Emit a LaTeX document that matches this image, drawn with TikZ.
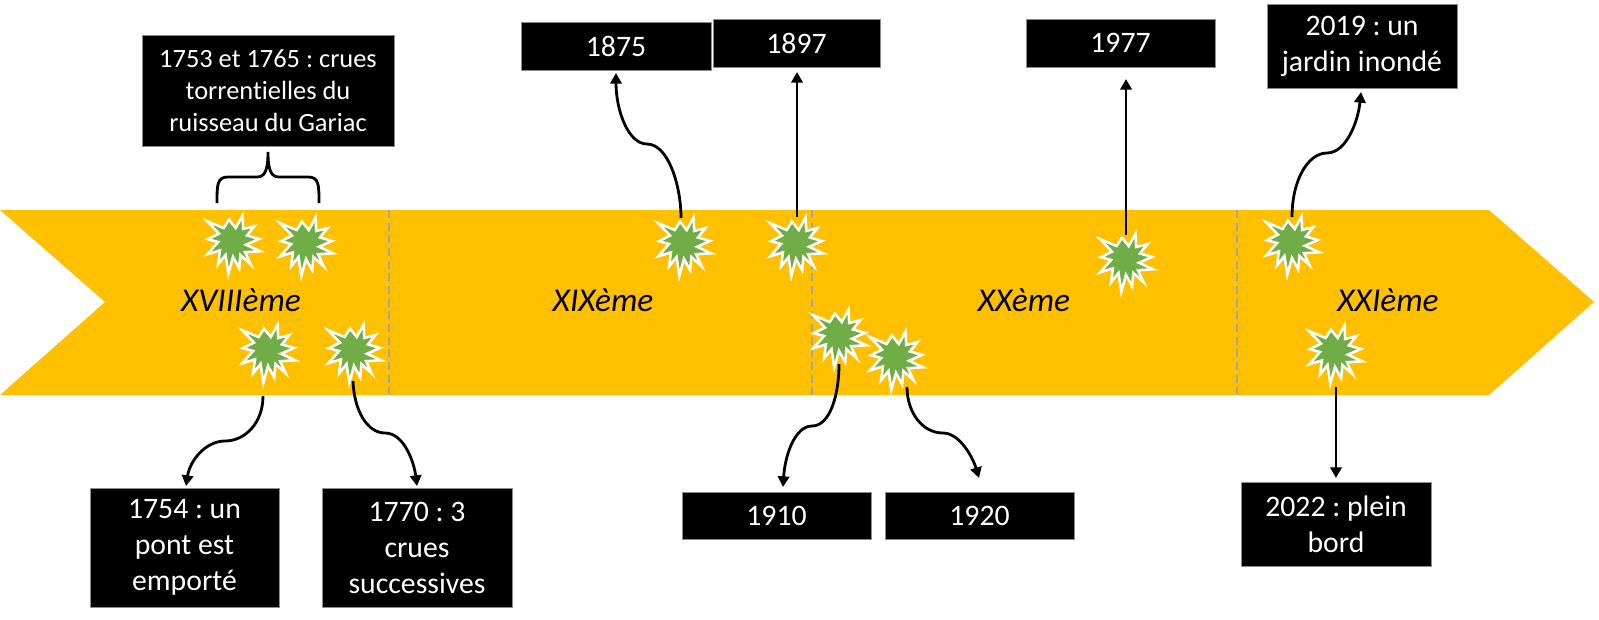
\documentclass[tikz,border=0pt]{standalone}
\usepackage{fontspec}
\setmainfont{Carlito}[Ligatures=NoCommon]
\usetikzlibrary{arrows.meta}
\definecolor{band}{RGB}{255,192,0}
\definecolor{burstgreen}{RGB}{112,173,71}
\definecolor{sepgray}{RGB}{165,165,165}
\tikzset{
  x=0.75pt,y=-0.75pt,
  lab/.style={fill=black,draw=black!45,line width=0.5pt,text=white,font=\fontsize{22.3}{27}\selectfont\frenchspacing,align=center,inner sep=0pt,anchor=center},
  labsmall/.style={lab,font=\fontsize{19.8}{24}\selectfont\frenchspacing},
  cent/.style={font=\fontsize{25}{30}\selectfont\itshape,inner sep=0pt},
  conn/.style={draw=black,line width=2.1pt,-{Triangle[length=8pt,width=8.5pt]}},
  brace/.style={draw=black,line width=2.1pt},
  burst/.style={fill=burstgreen,draw=white,line width=1.9pt,scale=0.93},
  sep/.style={draw=sepgray,line width=1.9pt,dash pattern=on 6pt off 3.5pt},
}
\newcommand{\lbox}[7][lab]{\node[#1,minimum width=#5*0.75pt-#3*0.75pt,minimum height=#6*0.75pt-#4*0.75pt] (#2) at ({(#3+#5)/2},{(#4+#6)/2}) {#7};}
\newcommand{\burstat}[3]{\coordinate (#1) at (#2,#3);
 \draw[burst,shift={(#1)}] (-27.7,-22.3) -- (-10,-15) -- (-4.3,-24) -- (3,-15) -- (10.3,-28.3) -- (11,-14) -- (23,-17) -- (15,-7) -- (28,-3.3) -- (14,3) -- (29.3,10) -- (13,11) -- (19,24) -- (8,14) -- (6.7,28.3) -- (0,16) -- (-5,34.3) -- (-8,14) -- (-16,24) -- (-14,9) -- (-27.7,13.3) -- (-16,0) -- (-27,-3) -- (-15,-9) -- cycle;}
\begin{document}
\begin{tikzpicture}
\useasboundingbox (0,0) rectangle (1599,619);
\fill[band] (0,210) -- (1489,210) -- (1594,302) -- (1489,395) -- (0,395) -- (105,302) -- cycle;
\coordinate (d1a) at (389,210); \coordinate (d1b) at (389,396);
\coordinate (d2a) at (812,210); \coordinate (d2b) at (812,396);
\coordinate (d3a) at (1237,210); \coordinate (d3b) at (1237,396);
\draw[sep] (d1a) -- (d1b);
\draw[sep] (d2a) -- (d2b);
\draw[sep] (d3a) -- (d3b);
\node[cent] (c18) at (241,300) {XVIIIème};
\node[cent] (c19) at (603,300) {XIXème};
\node[cent] (c20) at (1024,300) {XXème};
\node[cent] (c21) at (1388,300) {XXIème};
\burstat{s1}{233}{242}
\burstat{s2}{306}{244}
\burstat{s3}{268}{351}
\burstat{s4}{354}{351}
\burstat{s5}{684}{244}
\burstat{s6}{796}{244}
\burstat{s7}{839}{336}
\burstat{s8}{896}{358}
\burstat{s9}{1126}{260}
\burstat{s10}{1292}{243}
\burstat{s11}{1335}{352}
\lbox[labsmall]{b1}{142}{35}{394}{146}{1753 et 1765 : crues\\torrentielles du\\ruisseau du Gariac}
\lbox{b2}{521}{22}{711}{70}{1875}
\lbox{b3}{713}{19}{880}{67}{1897}
\lbox{b4}{1026}{19}{1215}{67}{1977}
\lbox{b5}{1267}{4}{1457}{88}{2019 : un\\jardin inondé}
\lbox{b6}{90}{488}{279}{607}{1754 : un\\pont est\\emporté}
\lbox{b7}{322}{488}{512}{607}{1770 : 3\\crues\\successives}
\lbox{b8}{682}{492}{871}{539}{1910}
\lbox{b9}{885}{492}{1074}{539}{1920}
\lbox{b10}{1241}{482}{1431}{566}{2022 : plein\\bord}
% brace
\coordinate (brL) at (217,203); \coordinate (brR) at (319,203); \coordinate (brT) at (268,152);
\draw[brace] (brL) .. controls (217,185) and (217,177) .. (228,177) -- (257,177) .. controls (265,177) and (268,170) .. (brT) .. controls (268,170) and (271,177) .. (279,177) -- (308,177) .. controls (319,177) and (319,185) .. (brR);
% connectors
\coordinate (a5) at (681,218); \coordinate (m5) at (647,144); \coordinate (e5) at (616,73);
\draw[conn] (a5) .. controls (681,185) and (668,144) .. (m5) .. controls (628,144) and (616,110) .. (e5);
\coordinate (a6) at (797,217); \coordinate (e6) at (797,72);
\draw[conn] (a6) -- (e6);
\coordinate (a9) at (1126,235); \coordinate (e9) at (1126,79);
\draw[conn] (a9) -- (e9);
\coordinate (a10) at (1292,217); \coordinate (m10) at (1327,153); \coordinate (e10) at (1361,92);
\draw[conn] (a10) .. controls (1292,180) and (1308,153) .. (m10) .. controls (1346,153) and (1358,122) .. (e10);
\coordinate (a3) at (263,396); \coordinate (m3) at (225,441); \coordinate (e3) at (186,486);
\draw[conn] (a3) .. controls (263,423) and (245,441) .. (m3) .. controls (206,441) and (190,460) .. (e3);
\coordinate (a4) at (353,381); \coordinate (m4) at (385,433); \coordinate (e4) at (417,486);
\draw[conn] (a4) .. controls (354,410) and (367,433) .. (m4) .. controls (404,433) and (414,462) .. (e4);
\coordinate (a7) at (839,364); \coordinate (m7) at (812,426); \coordinate (e7) at (783,487);
\draw[conn] (a7) .. controls (839,395) and (830,426) .. (m7) .. controls (795,426) and (785,455) .. (e7);
\coordinate (a8) at (907,387); \coordinate (m8) at (943,433); \coordinate (e8) at (979,478);
\draw[conn] (a8) .. controls (907,412) and (922,433) .. (m8) .. controls (960,433) and (973,458) .. (e8);
\coordinate (a11) at (1336,387); \coordinate (e11) at (1336,478);
\draw[conn] (a11) -- (e11);
\end{tikzpicture}
\end{document}
